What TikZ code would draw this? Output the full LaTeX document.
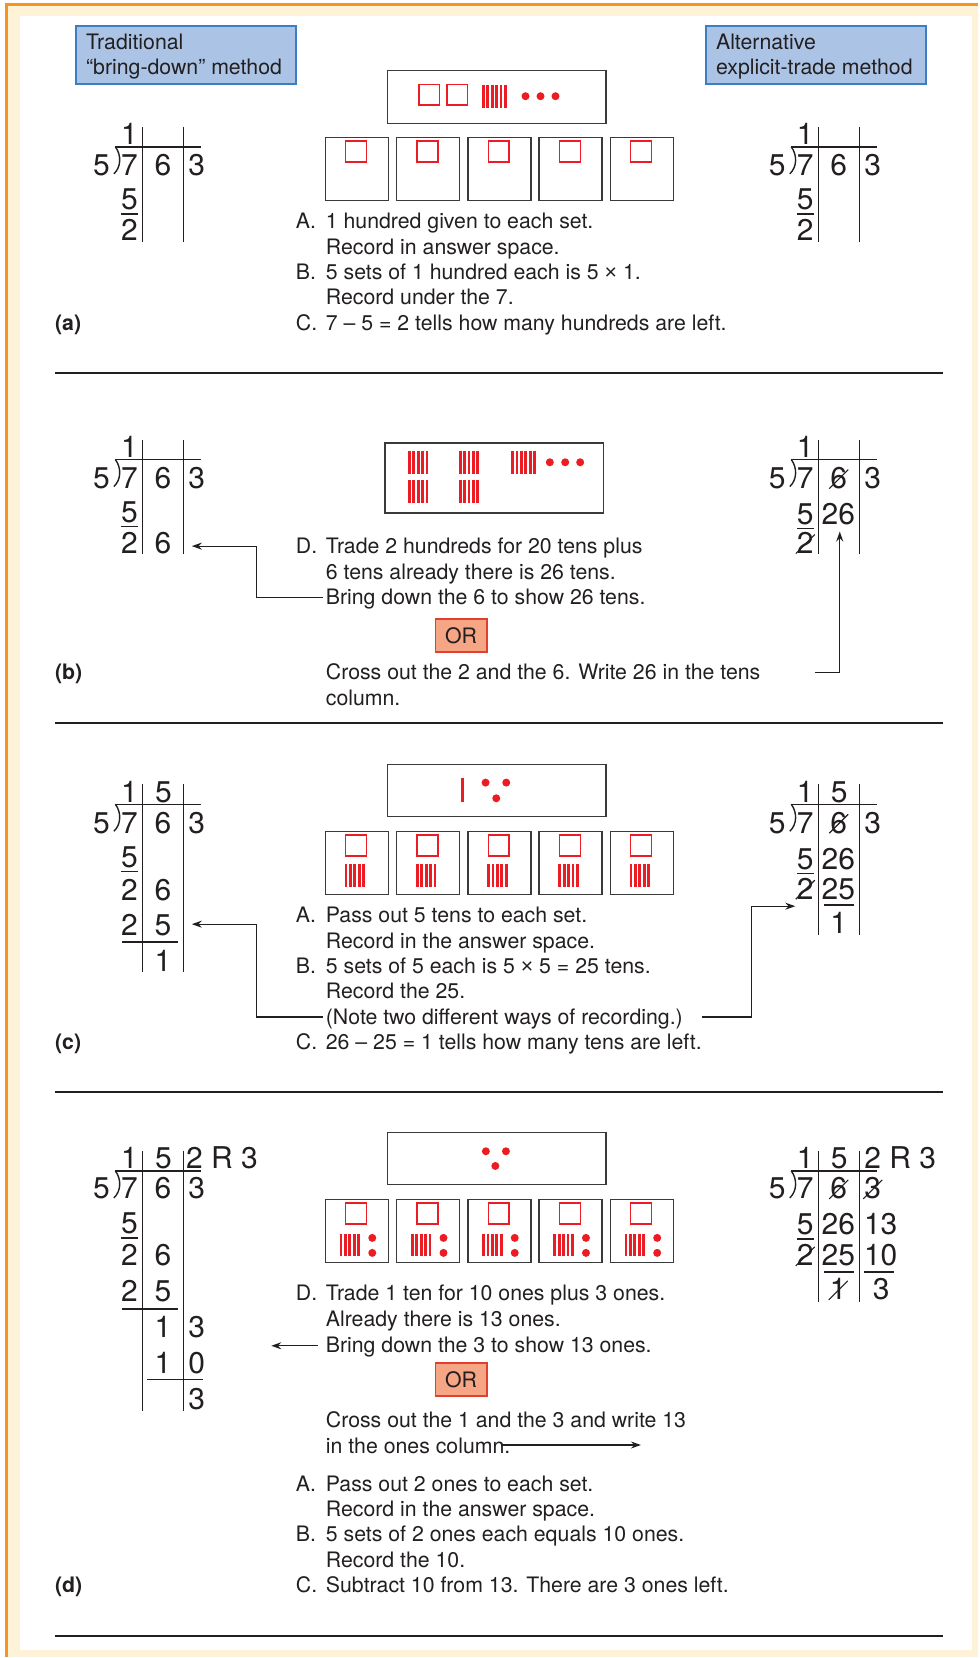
\documentclass[tikz,border=0pt]{standalone}
\usepackage{fontspec}
\setmainfont{TeX Gyre Heros}
\newfontfamily\crossfont{Liberation Sans}
\usetikzlibrary{arrows.meta}

\definecolor{ink}{HTML}{231F20}
\definecolor{cubered}{HTML}{EC1C24}
\definecolor{frameorange}{HTML}{F7941D}
\definecolor{cream}{HTML}{FEF3D9}
\definecolor{titlefill}{HTML}{ABC4E6}
\definecolor{titleedge}{HTML}{3C7DC4}
\definecolor{orfill}{HTML}{F6A585}
\definecolor{oredge}{HTML}{E2402F}
\definecolor{boxedge}{HTML}{3A3A3A}

\newcommand\bodyfont{\fontsize{21.3}{25.4}\selectfont}
\newcommand\digfont{\fontsize{30}{30}\selectfont}
\newcommand\by{{\crossfont ×}}

% one digit (or group of digits) of a long division, placed on its baseline
\newcommand\dg[4]{\node[digit] (#1) at (#2,#3) {#4};}
% division bracket, vinculum and the two column rules
\newcommand\divframe[1]{%
  \draw[rule] (-27,0) -- (59,0);
  \draw[rule] (-27,0) .. controls (-21,8) and (-21,20) .. (-28.5,27);
  \draw[rule] (0,-20) -- (0,#1);
  \draw[rule] (41,-20) -- (41,#1);
}
% slash through a digit node
\newcommand\strikeout[1]{\draw[strike] ([shift={(-9.5,0)}]#1.base) -- ([shift={(9.5,-19)}]#1.base);}
% a row of ten-rods: left x, top y, count, height
\newcommand\rods[4]{\foreach \k in {1,...,#3}{\draw[rod] ({#1+1.4+(\k-1)*4.4},#2) -- ++(0,#4);}}

\begin{document}
\begin{tikzpicture}[x=1pt,y=-1pt,
  txt/.style={anchor=base west, inner sep=0pt, font=\bodyfont, text=ink},
  lab/.style={anchor=base west, inner sep=0pt, font=\bodyfont\bfseries, text=ink},
  digit/.style={anchor=base, inner sep=0pt, font=\digfont, text=ink},
  rule/.style={draw=ink, line width=1.4pt},
  strike/.style={draw=ink, line width=1.1pt},
  titlebox/.style={draw=titleedge, fill=titlefill, line width=1.8pt, anchor=north west, inner sep=0pt, minimum width=220pt, minimum height=58pt},
  setbox/.style={draw=boxedge, line width=1.5pt, anchor=north west, minimum width=63pt, minimum height=63pt, inner sep=0pt},
  poolbox/.style={draw=boxedge, line width=1.5pt, anchor=north west, inner sep=0pt, minimum width=219pt},
  orbox/.style={draw=oredge, fill=orfill, line width=1.2pt, minimum width=52pt, minimum height=33pt, inner sep=0pt, font=\bodyfont, text=ink},
  hundred/.style={draw=cubered, line width=1.3pt},
  rod/.style={draw=cubered, line width=2.8pt},
  arr/.style={draw=ink, line width=1.2pt, -{Stealth[length=10pt,width=7pt]}},
  sep/.style={draw=ink, line width=2pt}]

% page frame
\fill[white] (0,0) rectangle (979,1658);
\fill[cream] (6.5,4.5) rectangle (979,1658);
\draw[frameorange, line width=3pt] (6.5,1658) -- (6.5,4.5) -- (979,4.5);
\fill[white] (20,16) rectangle (973,1651);
\useasboundingbox (0,0) rectangle (979,1658);

% method titles
\node[titlebox] (tradBox) at (75,25) {};
\node[txt] (tradL1) at (86,50) {Traditional};
\node[txt] (tradL2) at (86,75) {“bring-down” method};
\node[titlebox] (altBox) at (706,25) {};
\node[txt] (altL1) at (716.5,50) {Alternative};
\node[txt] (altL2) at (716.5,75) {explicit-trade method};

% section rules
\draw[sep] (55,373) -- (944,373);
\draw[sep] (55,724) -- (944,724);
\draw[sep] (55,1093) -- (944,1093);
\draw[sep] (55,1637.5) -- (944,1637.5);

%%%%%%%%%%%%%%%%%%%% (a) %%%%%%%%%%%%%%%%%%%%
\node[poolbox, minimum height=53pt] (aPool) at (387,70) {};
\draw[hundred] (419.5,84.5) rectangle ++(20.5,20.5);
\draw[hundred] (447.5,84.5) rectangle ++(20.5,20.5);
\rods{482.5}{85}{6}{23}
\foreach \px in {526,541,556}{\fill[cubered] (\px,96.3) circle (4pt);}
\foreach \i in {0,...,4}{
  \node[setbox] (aS\i) at ({325+71.3*\i},137) {};
  \draw[hundred] ({325+71.3*\i+21},141) rectangle ++(21,21);
}
\node[txt] (aA) at (296,229) {A.};
\node[txt] (aA1) at (326,229) {1 hundred given to each set.};
\node[txt] (aA2) at (326,254.4) {Record in answer space.};
\node[txt] (aB) at (296,279.8) {B.};
\node[txt] (aB1) at (326,279.8) {5 sets of 1 hundred each is 5 \by{} 1.};
\node[txt] (aB2) at (326,305.1) {Record under the 7.};
\node[txt] (aC) at (296,330.5) {C.};
\node[txt] (aC1) at (326,330.5) {7 – 5 = 2 tells how many hundreds are left.};
\node[lab] (aLab) at (55,330.5) {(a)};

\begin{scope}[shift={(142.5,147)}]
  \divframe{95}
  \dg{aL-q1}{-13}{-2}{1}
  \dg{aL-dv}{-41}{29}{5}
  \dg{aL-d1}{-13}{29}{7}
  \dg{aL-d2}{20.5}{29}{6}
  \dg{aL-d3}{54.5}{29}{3}
  \dg{aL-r3}{-13}{63}{5}
  \draw[rule] (-21,67) -- (-4,67);
  \dg{aL-r4}{-13}{94}{2}
\end{scope}
\begin{scope}[shift={(819,147)}]
  \divframe{95}
  \dg{aR-q1}{-13}{-2}{1}
  \dg{aR-dv}{-41}{29}{5}
  \dg{aR-d1}{-13}{29}{7}
  \dg{aR-d2}{20.5}{29}{6}
  \dg{aR-d3}{54.5}{29}{3}
  \dg{aR-r3}{-13}{63}{5}
  \draw[rule] (-21,67) -- (-4,67);
  \dg{aR-r4}{-13}{94}{2}
\end{scope}

%%%%%%%%%%%%%%%%%%%% (b) %%%%%%%%%%%%%%%%%%%%
\node[poolbox, minimum height=70pt] (bPool) at (384.5,442.7) {};
\rods{408.3}{451}{5}{23.3}
\rods{408.3}{480}{5}{23.3}
\rods{459.3}{451}{5}{23.3}
\rods{459.3}{480}{5}{23.3}
\rods{511.7}{451}{6}{23.3}
\foreach \px in {550.3,565.7,580.7}{\fill[cubered] (\px,462.7) circle (4pt);}
\node[txt] (bD) at (296,553.6) {D.};
\node[txt] (bD1) at (326,553.6) {Trade 2 hundreds for 20 tens plus};
\node[txt] (bD2) at (326,580) {6 tens already there is 26 tens.};
\node[txt] (bD3) at (326,605.4) {Bring down the 6 to show 26 tens.};
\node[orbox] (bOr) at (461.5,636) {OR};
\node[txt] (bX1) at (326,680.4) {Cross out the 2 and the 6. Write 26 in the tens};
\node[txt] (bX2) at (326,705.8) {column.};
\node[lab] (bLab) at (55,680.4) {(b)};

\begin{scope}[shift={(142.5,460)}]
  \divframe{94}
  \dg{bL-q1}{-13}{-2}{1}
  \dg{bL-dv}{-41}{29}{5}
  \dg{bL-d1}{-13}{29}{7}
  \dg{bL-d2}{20.5}{29}{6}
  \dg{bL-d3}{54.5}{29}{3}
  \dg{bL-r3}{-13}{63}{5}
  \draw[rule] (-21,67) -- (-4,67);
  \dg{bL-r4a}{-13}{94}{2}
  \dg{bL-r4b}{20.5}{94}{6}
\end{scope}
\begin{scope}[shift={(819,460)}]
  \divframe{94}
  \dg{bR-q1}{-13}{-2}{1}
  \dg{bR-dv}{-41}{29}{5}
  \dg{bR-d1}{-13}{29}{7}
  \dg{bR-d2}{20.5}{29}{6}
  \dg{bR-d3}{54.5}{29}{3}
  \dg{bR-r3a}{-13}{65}{5}
  \draw[rule] (-21,69) -- (-4,69);
  \dg{bR-r3b}{20}{65}{26}
  \dg{bR-r4}{-13}{94}{2}
\end{scope}
\strikeout{bR-d2}
\strikeout{bR-r4}

\coordinate (bL-from) at (323,598.4);
\coordinate (bL-to) at (192,546.6);
\draw[arr] (bL-from) -- ++(-66,0) |- (bL-to);
\coordinate (bR-from) at (816,673.4);
\coordinate (bR-to) at (840.5,532);
\draw[arr] (bR-from) -| (bR-to);

%%%%%%%%%%%%%%%%%%%% (c) %%%%%%%%%%%%%%%%%%%%
\node[poolbox, minimum height=52.4pt] (cPool) at (387,764.3) {};
\rods{461.9}{779}{1}{23.7}
\fill[cubered] (486,783.3) circle (4pt);
\fill[cubered] (506.7,783.3) circle (4pt);
\fill[cubered] (496.7,799) circle (4pt);
\foreach \i in {0,...,4}{
  \node[setbox] (cS\i) at ({325+71.3*\i},831.7) {};
  \draw[hundred] ({325+71.3*\i+21},835.7) rectangle ++(21,21);
  \rods{325+71.3*\i+20}{865}{5}{22.7}
}
\node[txt] (cA) at (296,923.6) {A.};
\node[txt] (cA1) at (326,923.6) {Pass out 5 tens to each set.};
\node[txt] (cA2) at (326,949) {Record in the answer space.};
\node[txt] (cB) at (296,974.3) {B.};
\node[txt] (cB1) at (326,974.3) {5 sets of 5 each is 5 \by{} 5 = 25 tens.};
\node[txt] (cB2) at (326,999.7) {Record the 25.};
\node[txt] (cB3) at (326,1025) {(Note two different ways of recording.)};
\node[txt] (cC) at (296,1050.4) {C.};
\node[txt] (cC1) at (326,1050.4) {26 – 25 = 1 tells how many tens are left.};
\node[lab] (cLab) at (55,1050.4) {(c)};

\begin{scope}[shift={(142.5,805)}]
  \divframe{168}
  \dg{cL-q1}{-13}{-2}{1}
  \dg{cL-q2}{21}{-2}{5}
  \dg{cL-dv}{-41}{29}{5}
  \dg{cL-d1}{-13}{29}{7}
  \dg{cL-d2}{20.5}{29}{6}
  \dg{cL-d3}{54.5}{29}{3}
  \dg{cL-r3}{-13}{63}{5}
  \draw[rule] (-21,67) -- (-4,67);
  \dg{cL-r4a}{-13}{96}{2}
  \dg{cL-r4b}{20.5}{96}{6}
  \dg{cL-r5a}{-13}{131}{2}
  \dg{cL-r5b}{20.5}{131}{5}
  \draw[rule] (-20.5,138) -- (36,138);
  \dg{cL-r6}{20.5}{167}{1}
\end{scope}
\begin{scope}[shift={(819,805)}]
  \divframe{131}
  \dg{cR-q1}{-13}{-2}{1}
  \dg{cR-q2}{21}{-2}{5}
  \dg{cR-dv}{-41}{29}{5}
  \dg{cR-d1}{-13}{29}{7}
  \dg{cR-d2}{20.5}{29}{6}
  \dg{cR-d3}{54.5}{29}{3}
  \dg{cR-r3a}{-13}{65}{5}
  \draw[rule] (-21,69) -- (-4,69);
  \dg{cR-r3b}{20}{65}{26}
  \dg{cR-r4a}{-13}{95}{2}
  \dg{cR-r4b}{20}{95}{25}
  \draw[rule] (6,101) -- (36,101);
  \dg{cR-r5}{20.5}{129}{1}
\end{scope}
\strikeout{cR-d2}
\strikeout{cR-r4a}

\coordinate (cL-from) at (323,1018);
\coordinate (cL-to) at (192,925);
\draw[arr] (cL-from) -- ++(-66,0) |- (cL-to);
\coordinate (cR-from) at (703,1018);
\coordinate (cR-to) at (796,907);
\draw[arr] (cR-from) -- ++(49,0) |- (cR-to);

%%%%%%%%%%%%%%%%%%%% (d) %%%%%%%%%%%%%%%%%%%%
\node[poolbox, minimum height=52pt] (dPool) at (387,1133) {};
\fill[cubered] (486.3,1152.3) circle (4pt);
\fill[cubered] (506.4,1152.3) circle (4pt);
\fill[cubered] (495.8,1167) circle (4pt);
\foreach \i in {0,...,4}{
  \node[setbox] (dS\i) at ({325+71.3*\i},1200) {};
  \draw[hundred] ({325+71.3*\i+21},1204) rectangle ++(21,21);
  \rods{325+71.3*\i+15}{1235}{5}{22}
  \fill[cubered] ({325+71.3*\i+47.6},1239) circle (4pt);
  \fill[cubered] ({325+71.3*\i+47.6},1254) circle (4pt);
}
\node[txt] (dD) at (296,1302) {D.};
\node[txt] (dD1) at (326,1302) {Trade 1 ten for 10 ones plus 3 ones.};
\node[txt] (dD2) at (326,1327.4) {Already there is 13 ones.};
\node[txt] (dD3) at (326,1354) {Bring down the 3 to show 13 ones.};
\node[orbox] (dOr) at (461.5,1380.7) {OR};
\node[txt] (dX1) at (326,1429) {Cross out the 1 and the 3 and write 13};
\node[txt] (dX2) at (326,1454.3) {in the ones column.};
\node[txt] (dA) at (296,1492.4) {A.};
\node[txt] (dA1) at (326,1492.4) {Pass out 2 ones to each set.};
\node[txt] (dA2) at (326,1517.7) {Record in the answer space.};
\node[txt] (dB) at (296,1543) {B.};
\node[txt] (dB1) at (326,1543) {5 sets of 2 ones each equals 10 ones.};
\node[txt] (dB2) at (326,1568.5) {Record the 10.};
\node[txt] (dC) at (296,1594) {C.};
\node[txt] (dC1) at (326,1594) {Subtract 10 from 13. There are 3 ones left.};
\node[lab] (dLab) at (55,1594) {(d)};

\begin{scope}[shift={(142.5,1172)}]
  \divframe{240}
  \dg{dL-q1}{-13}{-2}{1}
  \dg{dL-q2}{21}{-2}{5}
  \node[digit, anchor=base west] (dL-q3) at (43.5,-2) {2 R 3};
  \dg{dL-dv}{-41}{28}{5}
  \dg{dL-d1}{-13}{28}{7}
  \dg{dL-d2}{20.5}{28}{6}
  \dg{dL-d3}{54.5}{28}{3}
  \dg{dL-r3}{-13}{63}{5}
  \draw[rule] (-21,67) -- (-4,67);
  \dg{dL-r4a}{-13}{95}{2}
  \dg{dL-r4b}{20.5}{95}{6}
  \dg{dL-r5a}{-13}{131}{2}
  \dg{dL-r5b}{20.5}{131}{5}
  \draw[rule] (-20.5,138) -- (36,138);
  \dg{dL-r6a}{20.5}{167}{1}
  \dg{dL-r6b}{54.5}{167}{3}
  \dg{dL-r7a}{20.5}{203}{1}
  \dg{dL-r7b}{54.5}{203}{0}
  \draw[rule] (5,209) -- (61,209);
  \dg{dL-r8}{54.5}{239}{3}
\end{scope}
\begin{scope}[shift={(819,1172)}]
  \divframe{131}
  \dg{dR-q1}{-13}{-2}{1}
  \dg{dR-q2}{21}{-2}{5}
  \node[digit, anchor=base west] (dR-q3) at (46,-2) {2 R 3};
  \dg{dR-dv}{-41}{28}{5}
  \dg{dR-d1}{-13}{28}{7}
  \dg{dR-d2}{20.5}{28}{6}
  \dg{dR-d3}{54.5}{28}{3}
  \dg{dR-r3a}{-13}{64}{5}
  \draw[rule] (-21,68) -- (-4,68);
  \dg{dR-r3b}{20}{64}{26}
  \dg{dR-r3c}{62.5}{64}{13}
  \dg{dR-r4a}{-13}{95}{2}
  \dg{dR-r4b}{20}{95}{25}
  \draw[rule] (6,101) -- (36,101);
  \dg{dR-r4c}{62.5}{95}{10}
  \draw[rule] (46,101) -- (76,101);
  \dg{dR-r5a}{20}{129}{1}
  \dg{dR-r5b}{63}{129}{3}
\end{scope}
\strikeout{dR-d2}
\strikeout{dR-d3}
\strikeout{dR-r4a}
\strikeout{dR-r5a}

\coordinate (dL-from) at (318,1347);
\coordinate (dL-to) at (271.5,1347);
\draw[arr] (dL-from) -- (dL-to);
\coordinate (dR-from) at (501,1446.3);
\coordinate (dR-to) at (641.5,1446.3);
\draw[arr] (dR-from) -- (dR-to);

\end{tikzpicture}
\end{document}
